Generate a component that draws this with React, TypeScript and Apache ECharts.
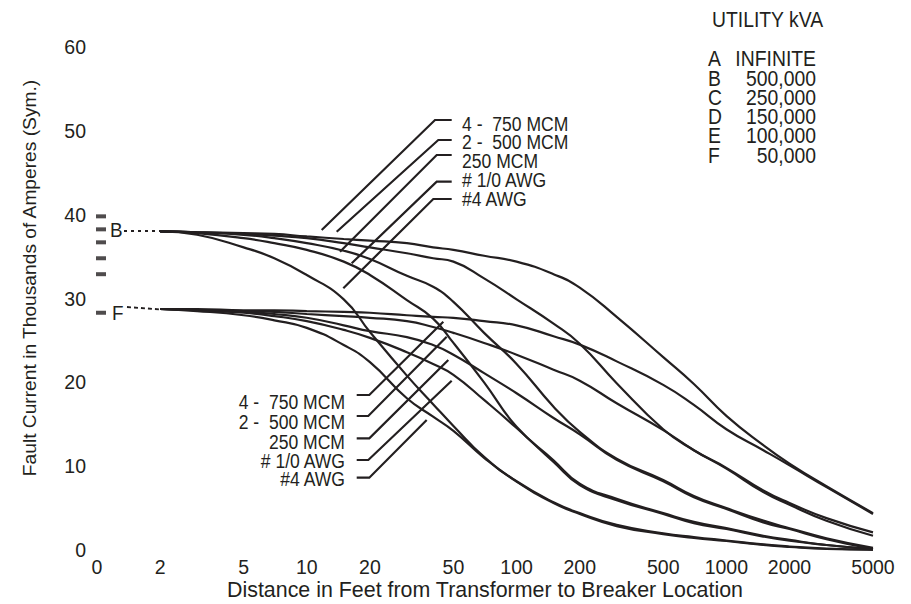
import React, { useEffect, useRef } from "react";
import * as echarts from "echarts";

// ---------------- data ----------------
// distances along the feeder (feet)
const distancesFt = [2, 3, 5, 7, 10, 15, 20, 30, 40, 50, 70, 100, 150, 200, 300, 500, 700, 1000, 1500, 2000, 3000, 5000];

// Utility B (500,000 kVA) fault current, thousands of amperes
const B_750 = [38.0, 37.9, 37.8, 37.7, 37.4, 37.1, 36.9, 36.6, 36.1, 35.8, 35.1, 34.4, 32.9, 31.3, 27.8, 23.0, 19.8, 16.0, 12.5, 10.3, 7.6, 4.4];
const B_500 = [38.0, 37.9, 37.7, 37.5, 37.2, 36.6, 36.1, 35.4, 34.8, 34.4, 32.4, 29.9, 27.0, 24.6, 19.9, 14.4, 11.9, 9.8, 7.1, 5.6, 3.8, 2.1];
const B_250 = [38.0, 37.9, 37.6, 37.2, 36.6, 35.7, 34.7, 32.7, 31.4, 29.6, 25.9, 22.2, 17.1, 14.1, 10.9, 8.35, 6.45, 5.0, 3.5, 2.6, 1.4, 0.25];
const B_1_0 = [38.0, 37.8, 37.2, 36.6, 35.8, 34.4, 32.8, 29.8, 27.6, 24.7, 20.0, 14.7, 10.7, 7.9, 6.1, 4.4, 3.35, 2.6, 1.7, 1.2, 0.6, 0.12];
const B_4 = [38.0, 37.6, 36.1, 34.8, 32.8, 29.9, 26.0, 20.8, 17.4, 14.8, 11.1, 8.2, 5.7, 4.4, 3.0, 2.0, 1.55, 1.13, 0.66, 0.42, 0.18, 0.05];

// Utility F (50,000 kVA) fault current, thousands of amperes
const F_750 = [28.75, 28.75, 28.6, 28.6, 28.5, 28.4, 28.3, 28.0, 27.8, 27.7, 27.3, 26.8, 25.5, 24.5, 22.5, 19.7, 17.3, 14.4, 11.9, 10.1, 7.5, 4.3];
const F_500 = [28.75, 28.6, 28.5, 28.4, 28.15, 27.9, 27.7, 27.3, 26.6, 25.9, 24.7, 23.3, 21.5, 20.2, 17.5, 14.3, 11.9, 9.7, 6.9, 5.4, 3.5, 1.7];
const F_250 = [28.75, 28.6, 28.4, 28.15, 27.7, 26.8, 26.1, 25.4, 24.45, 23.3, 21.1, 18.7, 15.75, 13.8, 10.75, 8.2, 6.3, 4.9, 3.3, 2.5, 1.3, 0.12];
const F_1_0 = [28.75, 28.6, 28.3, 27.9, 27.3, 26.25, 25.3, 23.6, 22.2, 20.9, 17.9, 14.55, 10.5, 7.75, 5.95, 4.3, 3.2, 2.5, 1.6, 1.1, 0.6, 0.08];
const F_4 = [28.75, 28.5, 28.0, 27.4, 26.5, 24.45, 22.4, 18.1, 15.9, 14.2, 11.0, 8.15, 5.6, 4.3, 2.85, 1.9, 1.43, 1.07, 0.6, 0.36, 0.12, 0.03];

const conductorNames = ["4 -  750 MCM", "2 -  500 MCM", "250 MCM", "# 1/0 AWG", "#4 AWG"];

// utility legend and currents at the transformer terminals (0 ft)
const utilityLetters = ["A", "B", "C", "D", "E", "F"];
const utilityKva = ["INFINITE", "500,000", "250,000", "150,000", "100,000", "50,000"];
const terminalCurrents = [39.8, 38.25, 36.7, 34.8, 32.9, 28.3];

// axis ticks
const xTickFeet = [0, 2, 5, 10, 20, 50, 100, 200, 500, 1000, 2000, 5000];
const xTickLabels = ["0", "2", "5", "10", "20", "50", "100", "200", "500", "1000", "2000", "5000"];
const yMin = 0;
const yMax = 60;
const yStep = 10;

const xTitle = "Distance in Feet from Transformer to Breaker Location";
const yTitle = "Fault Current in Thousands of Amperes (Sym.)";

// ---------------- layout (pixels) ----------------
const upperLabelY = [124, 142.5, 161, 180.5, 199.5];
const lowerLabelY = [402.5, 421.7, 441.7, 460.8, 479.2];
const upperLeaders = [
  [[451.7, 120], [435, 120], [321.7, 230]],
  [[451.7, 140], [438.3, 140], [336.7, 231.7]],
  [[451.7, 155], [436.7, 155], [340, 251.7]],
  [[451.7, 181.7], [436.7, 181.7], [351.7, 263.3]],
  [[451.7, 199], [433.3, 199], [343.3, 288.3]],
];
const lowerLeaders = [
  [[356.7, 395], [369.3, 395], [443.3, 321.7]],
  [[356.7, 416], [368.3, 416], [446.7, 336.7]],
  [[356.7, 438.3], [369.3, 438.3], [448.3, 360]],
  [[356.7, 460], [368.3, 460], [451.7, 380.7]],
  [[356.7, 477.7], [369.3, 477.7], [426.7, 420]],
];

const FONT = '"Liberation Sans", Arial, Helvetica, sans-serif';
const INK = "#231f20";

const toAxis = (ft: number) => (ft <= 0 ? 0 : Math.log10(ft));

function txt(
  text: string,
  x: number,
  y: number,
  fontSize: number,
  align: string,
  scaleX = 1,
  rotation = 0,
  lineHeight?: number
) {
  return {
    type: "text",
    x,
    y,
    scaleX,
    rotation,
    silent: true,
    z: 10,
    style: {
      text,
      x: 0,
      y: 0,
      fill: INK,
      fontFamily: FONT,
      fontSize,
      lineHeight: lineHeight || Math.round(fontSize * 1.05),
      align,
      verticalAlign: "middle",
      textAlign: align,
      textVerticalAlign: "middle",
    },
  };
}

function poly(points: number[][], dash?: number[]) {
  return {
    type: "polyline",
    silent: true,
    z: 10,
    shape: { points },
    style: {
      stroke: INK,
      lineWidth: dash ? 1.8 : 2.2,
      fill: null,
      lineDash: dash || null,
    },
  };
}

export default function App() {
  const ref = useRef<HTMLDivElement>(null);

  useEffect(() => {
    if (!ref.current) return;
    const chart = echarts.init(ref.current, null, { renderer: "svg" });

    const curveList = [
      { name: "B 4-750 MCM", values: B_750 },
      { name: "B 2-500 MCM", values: B_500 },
      { name: "B 250 MCM", values: B_250 },
      { name: "B 1/0 AWG", values: B_1_0 },
      { name: "B #4 AWG", values: B_4 },
      { name: "F 4-750 MCM", values: F_750 },
      { name: "F 2-500 MCM", values: F_500 },
      { name: "F 250 MCM", values: F_250 },
      { name: "F 1/0 AWG", values: F_1_0 },
      { name: "F #4 AWG", values: F_4 },
    ];

    const curveSeries = curveList.map((c) => ({
      type: "line",
      name: c.name,
      data: distancesFt.map((d, i) => [toAxis(d), c.values[i]]),
      showSymbol: false,
      symbol: "none",
      smooth: 0.5,
      silent: true,
      lineStyle: { color: INK, width: 2.2 },
      z: 3,
    }));

    const markerSeries = {
      type: "scatter",
      name: "terminal",
      data: terminalCurrents.map((v) => [toAxis(0), v]),
      symbol: "rect",
      symbolSize: [10, 4],
      symbolOffset: [4, 0],
      itemStyle: { color: INK },
      silent: true,
      z: 4,
    };

    const graphics: any[] = [];
    // axis titles
    graphics.push(txt(yTitle, 29, 278, 19.2, "center", 1, Math.PI / 2));
    graphics.push(txt(xTitle, 485, 590, 21.4, "center", 1, 0, 21));
    // utility legend
    graphics.push(txt("UTILITY kVA", 712, 19.5, 21.5, "left", 0.9));
    utilityLetters.forEach((l, i) => {
      const y = 58.3 + i * 19.3;
      graphics.push(txt(l, 708, y, 22, "left", 0.88, 0, 19));
      graphics.push(txt(utilityKva[i], 816, y, 22, "right", 0.88, 0, 19));
    });
    // conductor labels
    conductorNames.forEach((n, i) => {
      graphics.push(txt(n, 462, upperLabelY[i], 19.5, "left", 0.9, 0, 18));
      graphics.push(txt(n, 345, lowerLabelY[i], 19.5, "right", 0.9, 0, 18));
    });
    upperLeaders.forEach((p) => graphics.push(poly(p)));
    lowerLeaders.forEach((p) => graphics.push(poly(p)));
    // B / F tags with dashed leads to the curve origins
    graphics.push(txt("B", 110, 230, 21, "left", 0.9));
    graphics.push(txt("F", 112, 313, 21, "left", 0.9));
    graphics.push(poly([[124, 231], [162, 231]], [3, 4]));
    graphics.push(poly([[127, 307], [162, 309.5]], [4, 3]));

    chart.setOption({
      animation: false,
      backgroundColor: "#ffffff",
      grid: {
        left: 97,
        right: 38,
        top: 47,
        bottom: 54,
        containLabel: false,
        outerBoundsMode: "none",
      },
      xAxis: {
        type: "value",
        min: 0,
        max: Math.log10(5000),
        axisLine: { show: false },
        axisTick: { show: false },
        splitLine: { show: false },
        axisLabel: {
          customValues: xTickFeet.map(toAxis),
          showMinLabel: true,
          showMaxLabel: true,
          formatter: (v: number) => {
            const i = xTickFeet.findIndex((f) => Math.abs(toAxis(f) - v) < 1e-6);
            return i >= 0 ? xTickLabels[i] : "";
          },
          fontSize: 19.5,
          lineHeight: 18,
          fontFamily: FONT,
          color: INK,
          margin: 8,
        },
      },
      yAxis: {
        type: "value",
        min: yMin,
        max: yMax,
        interval: yStep,
        axisLine: { show: false },
        axisTick: { show: false },
        splitLine: { show: false },
        axisLabel: { fontSize: 19.5, fontFamily: FONT, color: INK, margin: 11 },
      },
      series: [...curveSeries, markerSeries],
      graphic: graphics,
    });

    return () => chart.dispose();
  }, []);

  return (
    <div
      ref={ref}
      style={{ position: "absolute", left: 0, top: 0, width: 911, height: 604, background: "#fff" }}
    />
  );
}
